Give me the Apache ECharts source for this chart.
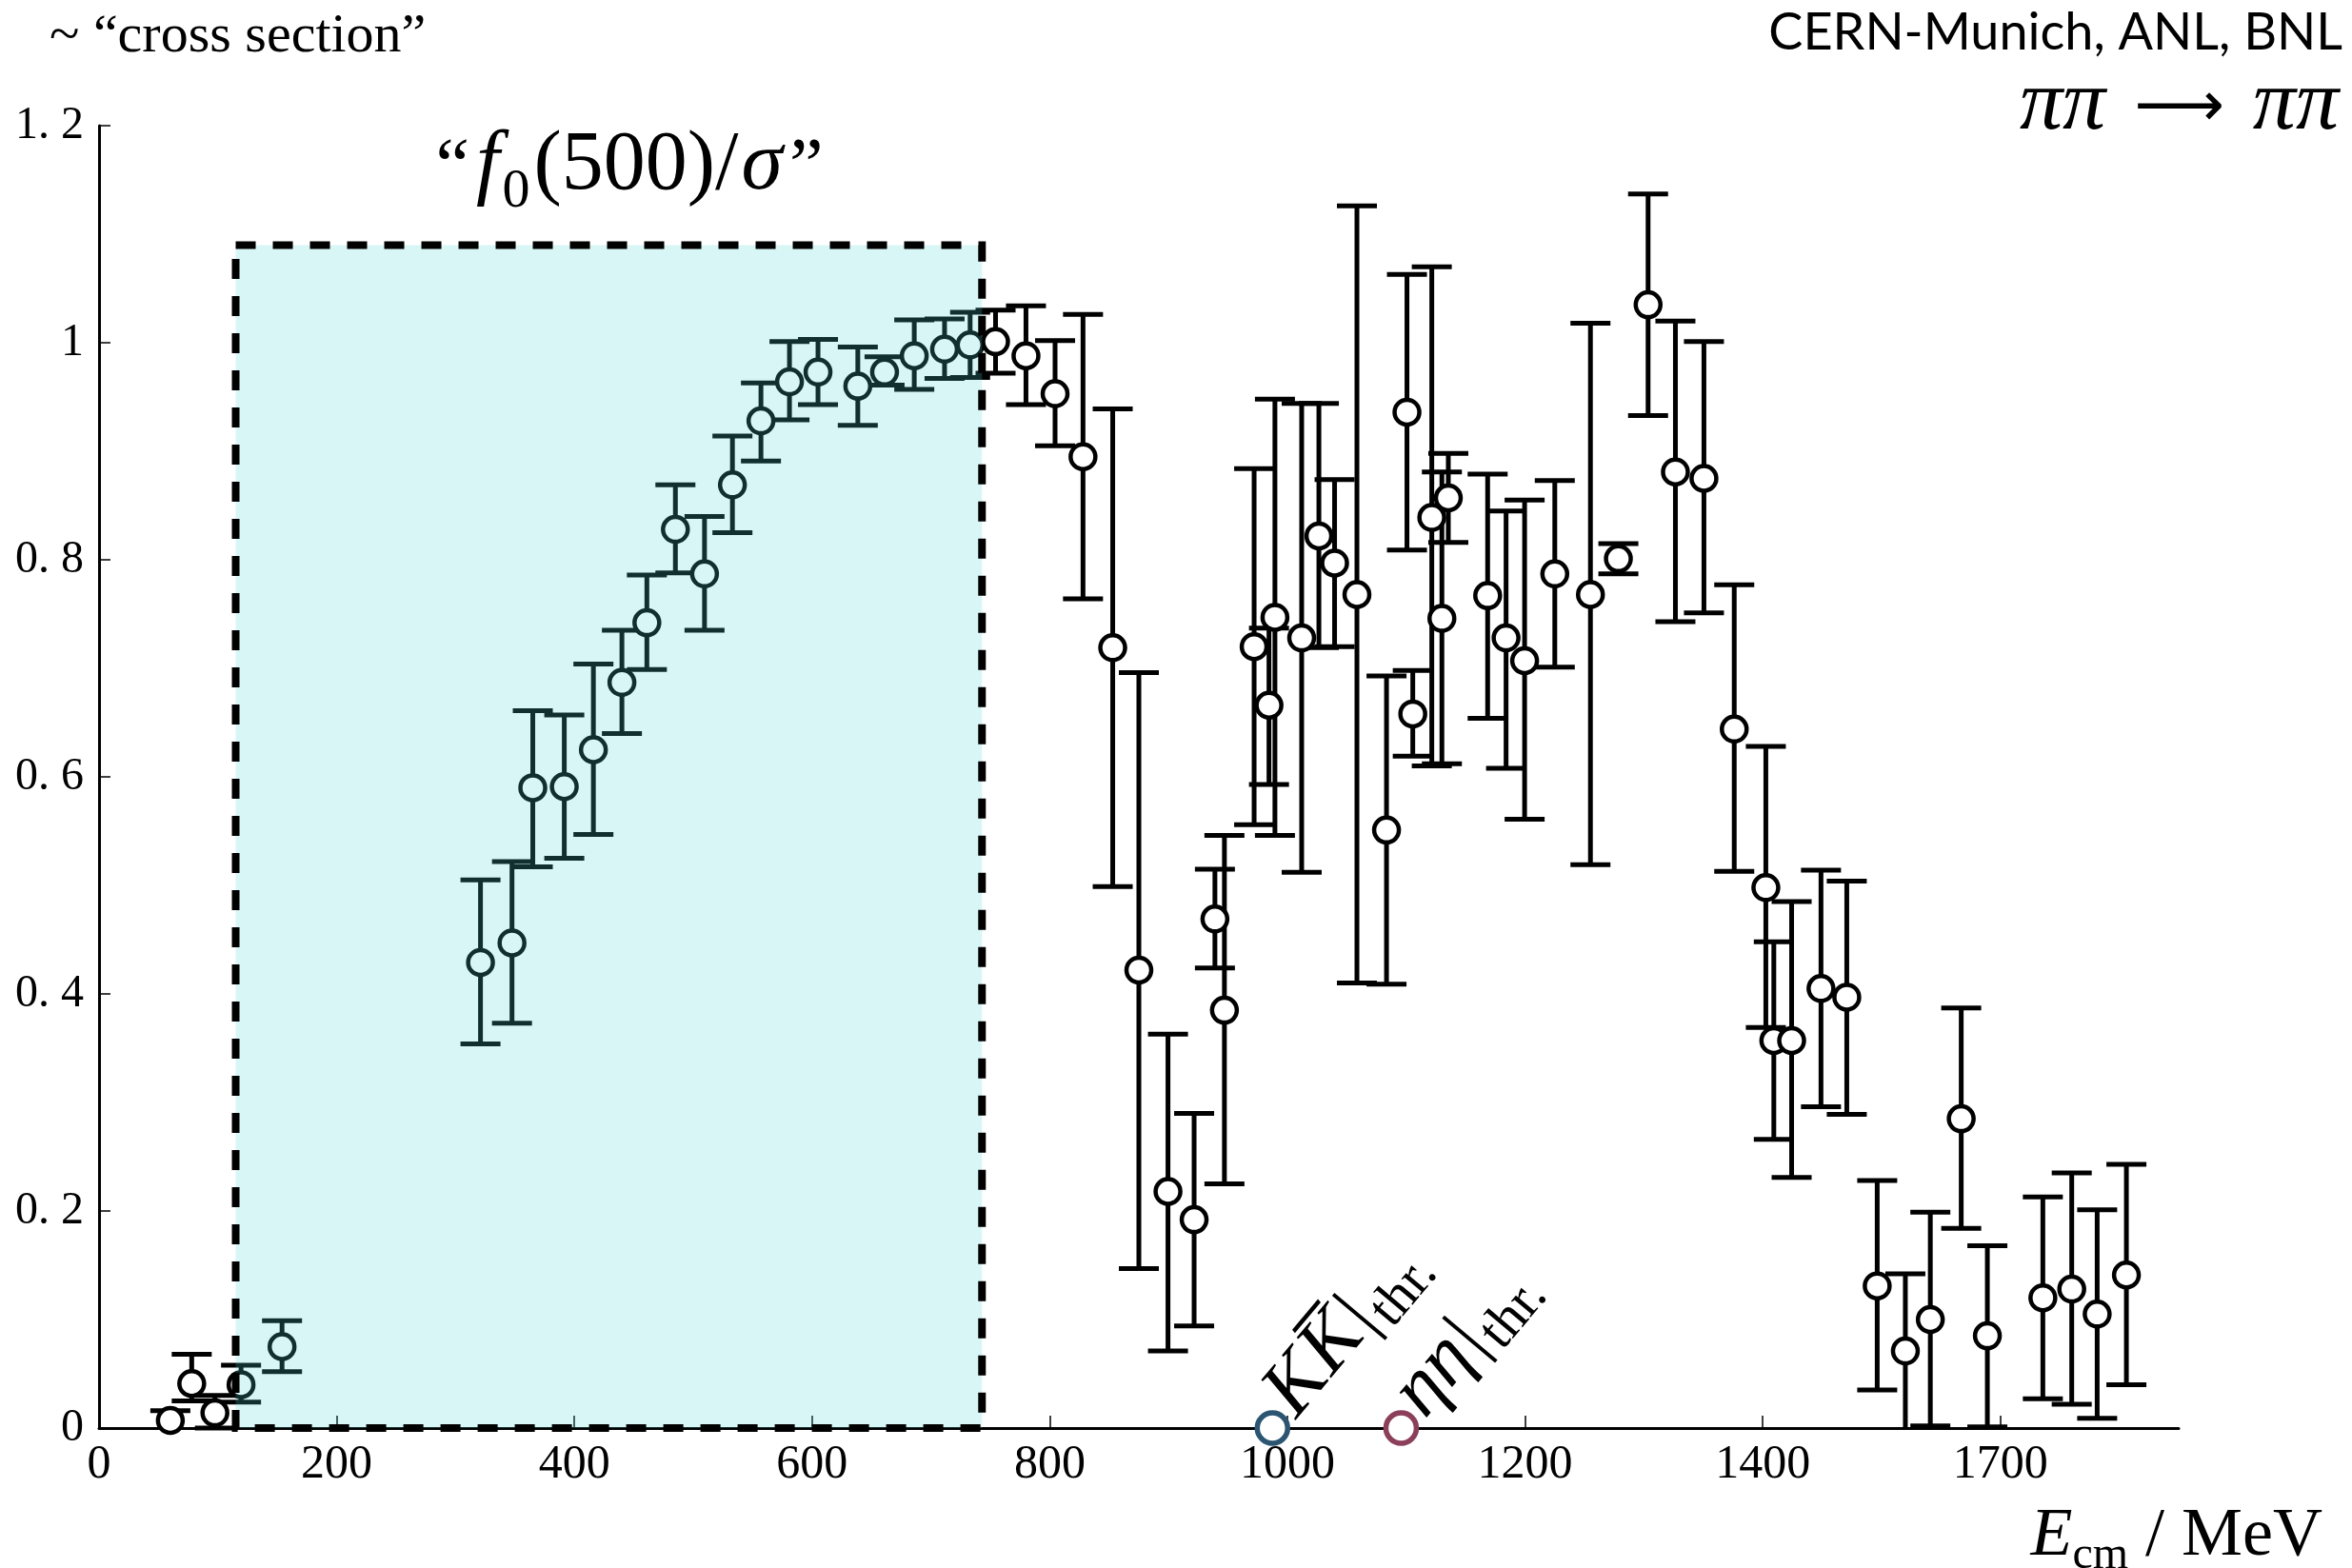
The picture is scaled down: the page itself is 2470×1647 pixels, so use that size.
<!DOCTYPE html>
<html>
<head>
<meta charset="utf-8">
<script src="https://cdn.jsdelivr.net/npm/echarts@6/dist/echarts.min.js"></script>
<style>
html,body{margin:0;padding:0;background:#fff}
#c{width:2470px;height:1647px}
</style>
</head>
<body>
<div id="c"></div>
<script>
// ---- data ----
const energy = [60, 78, 97.5, 119.5, 154, 321, 347.5, 365, 391.5, 416, 440, 461, 485, 509.5, 533, 557, 581, 605, 638.5, 661, 686, 711.5, 733,
  754.4, 780, 804.5, 828, 853, 875, 899.5, 921.5, 939, 947, 972, 984.5, 989.5, 1012, 1026.5, 1039.7, 1058.5, 1083.4, 1100.6, 1105.5,
  1121.5, 1130, 1135.4, 1168.5, 1184, 1199.6, 1225, 1255, 1278.5, 1303.5, 1326.5, 1350.5, 1376, 1402.6, 1409.3, 1424.3, 1449, 1470.7,
  1496.3, 1520, 1541, 1567, 1589, 1635.7, 1660, 1681.4, 1706];
const sigma = [0.007, 0.041, 0.014, 0.040, 0.075, 0.429, 0.447, 0.590, 0.591, 0.625, 0.687, 0.742, 0.828, 0.787, 0.869, 0.928, 0.964, 0.973, 0.960, 0.973, 0.988, 0.994, 0.998,
  1.001, 0.988, 0.953, 0.895, 0.719, 0.422, 0.218, 0.192, 0.469, 0.385, 0.720, 0.666, 0.747, 0.728, 0.822, 0.797, 0.768, 0.551, 0.936, 0.658,
  0.839, 0.746, 0.857, 0.767, 0.728, 0.707, 0.787, 0.768, 0.801, 1.035, 0.881, 0.875, 0.644, 0.498, 0.357, 0.357, 0.405, 0.397,
  0.131, 0.071, 0.100, 0.285, 0.085, 0.120, 0.128, 0.105, 0.141];
const upper = [0.016, 0.068, 0.030, 0.058, 0.099, 0.505, 0.522, 0.661, 0.657, 0.704, 0.735, 0.786, 0.869, 0.840, 0.914, 0.963, 1.001, 1.003, 0.996, 0.987, 1.021, 1.022, 1.028,
  1.030, 1.034, 1.002, 1.026, 0.939, 0.696, 0.363, 0.290, 0.515, 0.546, 0.884, 0.737, 0.948, 0.944, 0.944, 0.874, 1.126, 0.693, 1.063, 0.698,
  1.070, 0.881, 0.898, 0.879, 0.845, 0.855, 0.873, 1.018, 0.815, 1.137, 1.020, 1.001, 0.777, 0.628, 0.448, 0.485, 0.514, 0.504,
  0.228, 0.142, 0.199, 0.387, 0.168, 0.213, 0.235, 0.201, 0.243];
const lower = [-0.005, 0.025, 0.000, 0.024, 0.052, 0.354, 0.373, 0.517, 0.525, 0.547, 0.640, 0.699, 0.788, 0.735, 0.825, 0.891, 0.929, 0.943, 0.924, 0.961, 0.957, 0.967, 0.968,
  0.972, 0.943, 0.905, 0.764, 0.499, 0.147, 0.071, 0.094, 0.424, 0.225, 0.556, 0.593, 0.546, 0.512, 0.719, 0.720, 0.410, 0.409, 0.809, 0.619,
  0.610, 0.612, 0.816, 0.654, 0.608, 0.561, 0.701, 0.519, 0.787, 0.933, 0.743, 0.751, 0.513, 0.369, 0.266, 0.231, 0.296, 0.289,
  0.035, -0.030, 0.002, 0.184, 0.001, 0.027, 0.022, 0.009, 0.040];

const thresholdEnergy = [987.4, 1095.7];
const thresholdLabels = ['{i|K}{i|K\u0305}{r||}{s|thr.}', '{i|\u03b7\u03b7}{r||}{s|thr.}'];
const thresholdColors = ['#2b5570', '#8b3f5a'];

const boxX = [115, 743];
const boxY = [0, 1.09];

const xTickValues = [0, 200, 400, 600, 800, 1000, 1200, 1400, 1600];
const xTickLabels = ['0', '200', '400', '600', '800', '1000', '1200', '1400', '1700'];
const yTickLabels = ['0', '0. 2', '0. 4', '0. 6', '0. 8', '1', '1. 2'];

// ---- chart ----
const serif = '"Liberation Serif", "DejaVu Serif", serif';
const chart = echarts.init(document.getElementById('c'), null, {renderer: 'canvas'});

const points = energy.map((e, i) => [e, sigma[i]]);
const bars = energy.map((e, i) => [e, lower[i], upper[i]]);
const thresholds = thresholdEnergy.map((e) => [e, 0]);

function errorBarRender(params, api) {
  const x = api.value(0), lo = api.value(1), hi = api.value(2);
  const pTop = api.coord([x, hi]);
  const pBot = api.coord([x, Math.max(lo, 0)]);
  const hw = 21;
  const style = {stroke: '#000', lineWidth: 5};
  const children = [
    {type: 'line', shape: {x1: pTop[0], y1: pTop[1], x2: pBot[0], y2: pBot[1]}, style: style},
    {type: 'line', shape: {x1: pTop[0] - hw, y1: pTop[1], x2: pTop[0] + hw, y2: pTop[1]}, style: style}
  ];
  if (lo >= 0) {
    children.push({type: 'line', shape: {x1: pBot[0] - hw, y1: pBot[1], x2: pBot[0] + hw, y2: pBot[1]}, style: style});
  }
  return {type: 'group', children: children};
}

function boxRender(params, api) {
  const p0 = api.coord([api.value(0), api.value(3)]);
  const p1 = api.coord([api.value(2), api.value(1)]);
  const shape = {x: p0[0], y: p0[1], width: p1[0] - p0[0], height: p1[1] - p0[1]};
  return {type: 'group', children: [
    {type: 'rect', shape: shape, style: {fill: 'rgba(80,215,215,0.22)', stroke: null}},
    {type: 'rect', shape: shape, style: {fill: null, stroke: '#000', lineWidth: 8, lineDash: [21, 18]}}
  ]};
}

const thrRich = {
  i: {fontFamily: serif, fontStyle: 'italic', fontSize: 84, fill: '#000', lineHeight: 86, verticalAlign: 'bottom', padding: [0, 2, 0, 0]},
  r: {fontFamily: serif, fontSize: 80, fill: '#000', lineHeight: 86, verticalAlign: 'bottom', padding: [0, 4, 0, 2]},
  s: {fontFamily: serif, fontSize: 58, fill: '#000', lineHeight: 60, verticalAlign: 'bottom', padding: [0, 0, -10, 0]}
};

function thresholdRender(params, api) {
  const p = api.coord([api.value(0), api.value(1)]);
  const ang = 50 * Math.PI / 180;
  return {type: 'group', children: [
    {type: 'circle', shape: {cx: p[0], cy: p[1], r: 16}, style: {fill: '#fff', stroke: thresholdColors[params.dataIndex], lineWidth: 5.5}},
    {type: 'group', x: p[0] + 40, y: p[1] + 4, rotation: ang, children: [
      {type: 'text', x: 0, y: 0, style: {text: thresholdLabels[params.dataIndex], rich: thrRich, align: 'left', verticalAlign: 'bottom'}}
    ]}
  ]};
}

const option = {
  animation: false,
  backgroundColor: '#fff',
  grid: {left: 104, right: 182, top: 132, bottom: 147, containLabel: false, outerBoundsMode: 'none'},
  xAxis: {
    type: 'value', min: 0, max: 1750, interval: 200,
    axisLine: {show: true, onZero: false, lineStyle: {color: '#000', width: 3}},
    axisTick: {show: true, inside: true, length: 13, customValues: xTickValues, lineStyle: {color: '#000', width: 1.5}},
    axisLabel: {
      customValues: xTickValues,
      formatter: function (v) { const k = xTickValues.indexOf(v); return k >= 0 ? xTickLabels[k] : ''; },
      fontFamily: serif, fontSize: 50, color: '#000', margin: 14
    },
    splitLine: {show: false},
    name: '{i|E}{sub|cm}{r| / MeV}',
    nameLocation: 'end',
    nameGap: 151,
    nameTextStyle: {
      align: 'right', verticalAlign: 'top', padding: [74, 0, 0, 0],
      rich: {
        i: {fontFamily: serif, fontStyle: 'italic', fontSize: 72, color: '#000', lineHeight: 76, verticalAlign: 'bottom'},
        sub: {fontFamily: serif, fontSize: 48, color: '#000', lineHeight: 60, verticalAlign: 'bottom', padding: [0, 0, -8, 0]},
        r: {fontFamily: serif, fontSize: 72, color: '#000', lineHeight: 76, verticalAlign: 'bottom'}
      }
    }
  },
  yAxis: {
    type: 'value', min: 0, max: 1.2, interval: 0.2,
    axisLine: {show: true, lineStyle: {color: '#000', width: 3}},
    axisTick: {show: true, inside: true, length: 12, lineStyle: {color: '#000', width: 1.5}},
    axisLabel: {
      formatter: function (v) { return yTickLabels[Math.round(v / 0.2)]; },
      fontFamily: serif, fontSize: 48, color: '#000', margin: 16
    },
    splitLine: {show: false}
  },
  graphic: [
    {type: 'text', left: 52, top: 10, style: {text: '~ \u201Ccross section\u201D', fontFamily: serif, fontSize: 58, fill: '#000'}},
    {type: 'text', right: 10, top: 8, style: {text: 'CERN-Munich, ANL, BNL', fontFamily: 'Lato, "Open Sans", sans-serif', fontSize: 54, fill: '#000'}},
    {type: 'text', right: 14, top: 66, style: {
      text: '{i|\u03c0\u03c0}{r|\u27f6}{i|\u03c0\u03c0}',
      rich: {
        i: {fontFamily: serif, fontStyle: 'italic', fontSize: 90, fill: '#000', lineHeight: 96, verticalAlign: 'bottom'},
        r: {fontFamily: '"DejaVu Sans", sans-serif', fontSize: 66, fill: '#000', lineHeight: 96, verticalAlign: 'bottom', padding: [0, 30, 8, 30]}
      }
    }},
    {type: 'text', x: 661, y: 174, style: {
      text: '{q|\u201C}{i|f}{sub|0}{r|(500)/}{i|\u03c3}{q|\u201D}',
      align: 'center', verticalAlign: 'middle',
      rich: {
        q: {fontFamily: serif, fontSize: 80, fill: '#000', lineHeight: 90, verticalAlign: 'bottom', padding: [0, 4, 0, 4]},
        i: {fontFamily: serif, fontStyle: 'italic', fontSize: 88, fill: '#000', lineHeight: 90, verticalAlign: 'bottom', padding: [0, 3, 0, 3]},
        sub: {fontFamily: serif, fontSize: 58, fill: '#000', lineHeight: 74, verticalAlign: 'bottom', padding: [0, 4, -12, 0]},
        r: {fontFamily: serif, fontSize: 88, fill: '#000', lineHeight: 90, verticalAlign: 'bottom'}
      }
    }}
  ],
  series: [
    {
      type: 'custom', name: 'errors', renderItem: errorBarRender, data: bars,
      encode: {x: 0, y: [1, 2]}, z: 2, silent: true, clip: false
    },
    {
      type: 'scatter', name: 'data', data: points, symbol: 'circle', symbolSize: 26,
      itemStyle: {color: '#fff', borderColor: '#000', borderWidth: 4.5, opacity: 1}, z: 3, silent: true
    },
    {
      type: 'custom', name: 'box', renderItem: boxRender,
      data: [[boxX[0], boxY[0], boxX[1], boxY[1]]],
      encode: {x: [0, 2], y: [1, 3]}, z: 4, silent: true, clip: false
    },
    {
      type: 'custom', name: 'thresholds', renderItem: thresholdRender, data: thresholds,
      encode: {x: 0, y: 1}, z: 5, silent: true, clip: false
    }
  ]
};
chart.setOption(option);
</script>
</body>
</html>
